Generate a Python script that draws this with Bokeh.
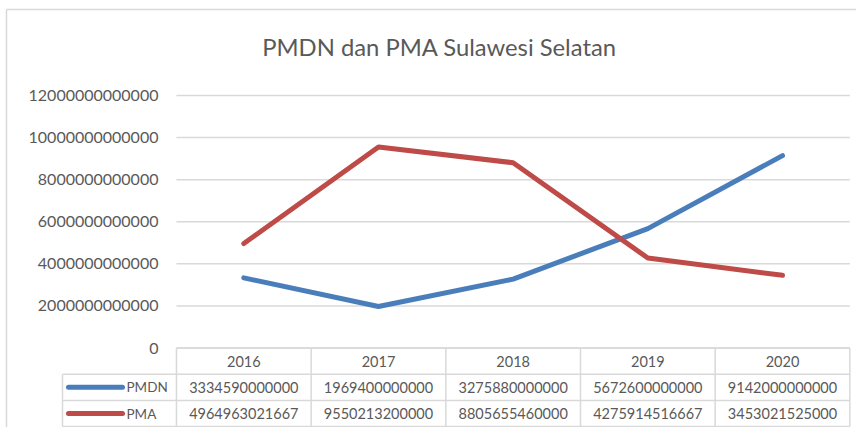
from bokeh.plotting import figure
from bokeh.models import Range1d
from bokeh.core.properties import value
from bokeh.embed import file_html
from bokeh.resources import INLINE

# ---- data ----
years = ["2016", "2017", "2018", "2019", "2020"]
pmdn = [3334590000000, 1969400000000, 3275880000000, 5672600000000, 9142000000000]
pma = [4964963021667, 9550213200000, 8805655460000, 4275914516667, 3453021525000]
y_ticks = [0, 2000000000000, 4000000000000, 6000000000000,
           8000000000000, 10000000000000, 12000000000000]
y_tick_labels = ["0", "2000000000000", "4000000000000", "6000000000000",
                 "8000000000000", "10000000000000", "12000000000000"]
series_names = ["PMDN", "PMA"]
title_text = "PMDN dan PMA Sulawesi Selatan"

W, H = 856, 427

# ---- layout helpers (canvas pixels -> data) ----
C0, CW = 243.3, 134.68          # centre of first category column, column width
def px2x(px):
    return (px - C0) / CW

V0, VK = 347.5, 21.04e-12       # canvas y of value 0, px per unit value
def py2v(py):
    return (V0 - py) / VK

R0, RH = 347.5, 26.2            # table top, row height
def py2r(py):
    return (py - R0) / RH

BLUE = "#4a7ebb"
RED = "#be4b48"
GRID = "#d9d9d9"
TXT = "#595959"
FONT = value("Lato")

p = figure(width=W, height=H,
           x_range=Range1d(px2x(0), px2x(W)),
           y_range=Range1d(py2v(H), py2v(0)),
           output_backend="svg", toolbar_location=None,
           x_axis_type=None, y_axis_type=None,
           min_border=0, outline_line_color=None,
           background_fill_color="white", border_fill_color="white")
p.extra_y_ranges = {"tbl": Range1d(start=py2r(H), end=py2r(0))}

n = len(years)
xs = list(range(n))
left_edge = -0.5
right_edge = n - 0.5

# outer chart border (left + top)
p.segment(x0=[px2x(6), px2x(6)], y0=[py2v(9), py2v(9)],
          x1=[px2x(6), px2x(W)], y1=[py2v(H), py2v(9)],
          line_color=GRID, line_width=1.5)

# title
p.text(x=[px2x(439)], y=[py2v(46)], text=[title_text], text_font=FONT,
       text_font_size=value("23.8px"), text_color=TXT,
       text_align="center", text_baseline="middle")

# gridlines at the tick values
p.segment(x0=[left_edge] * len(y_ticks), y0=y_ticks,
          x1=[right_edge] * len(y_ticks), y1=y_ticks,
          line_color=GRID, line_width=1.5)

# y tick labels
p.text(x=[left_edge] * len(y_ticks), y=y_ticks, text=y_tick_labels,
       x_offset=-18, text_font=FONT, text_font_size=value("16px"),
       text_color=TXT, text_align="right", text_baseline="middle")

# series lines
p.line(x=xs, y=pmdn, line_color=BLUE, line_width=5,
       line_cap="round", line_join="round")
p.line(x=xs, y=pma, line_color=RED, line_width=5,
       line_cap="round", line_join="round")

# ---- data table ----
tleft = px2x(62)
p.segment(x0=[left_edge, tleft, tleft, tleft], y0=[0, 1, 2, 3],
          x1=[right_edge] * 4, y1=[0, 1, 2, 3],
          line_color=GRID, line_width=1.5, y_range_name="tbl")
bounds = [i - 0.5 for i in range(n + 1)]
p.segment(x0=bounds, y0=[0] * len(bounds), x1=bounds, y1=[3] * len(bounds),
          line_color=GRID, line_width=1.5, y_range_name="tbl")
p.segment(x0=[tleft], y0=[1], x1=[tleft], y1=[3],
          line_color=GRID, line_width=1.5, y_range_name="tbl")

p.text(x=xs, y=[0.5] * n, text=years, text_font=FONT,
       text_font_size=value("14.5px"), text_color=TXT,
       text_align="center", text_baseline="middle", y_range_name="tbl")
for r, (vals, col) in enumerate([(pmdn, BLUE), (pma, RED)]):
    row_y = r + 1.5
    p.text(x=xs, y=[row_y] * n, text=[str(v) for v in vals], text_font=FONT,
           text_font_size=value("14.5px"), text_color=TXT,
           text_align="center", text_baseline="middle", y_range_name="tbl")
    p.line(x=[px2x(68), px2x(122)], y=[row_y, row_y], line_color=col,
           line_width=5, line_cap="round", y_range_name="tbl")
    p.text(x=[px2x(126)], y=[row_y], text=[series_names[r]], text_font=FONT,
           text_font_size=value("13.5px"), text_color=TXT,
           text_align="left", text_baseline="middle", y_range_name="tbl")

open("out.html", "w").write(file_html(p, INLINE))
